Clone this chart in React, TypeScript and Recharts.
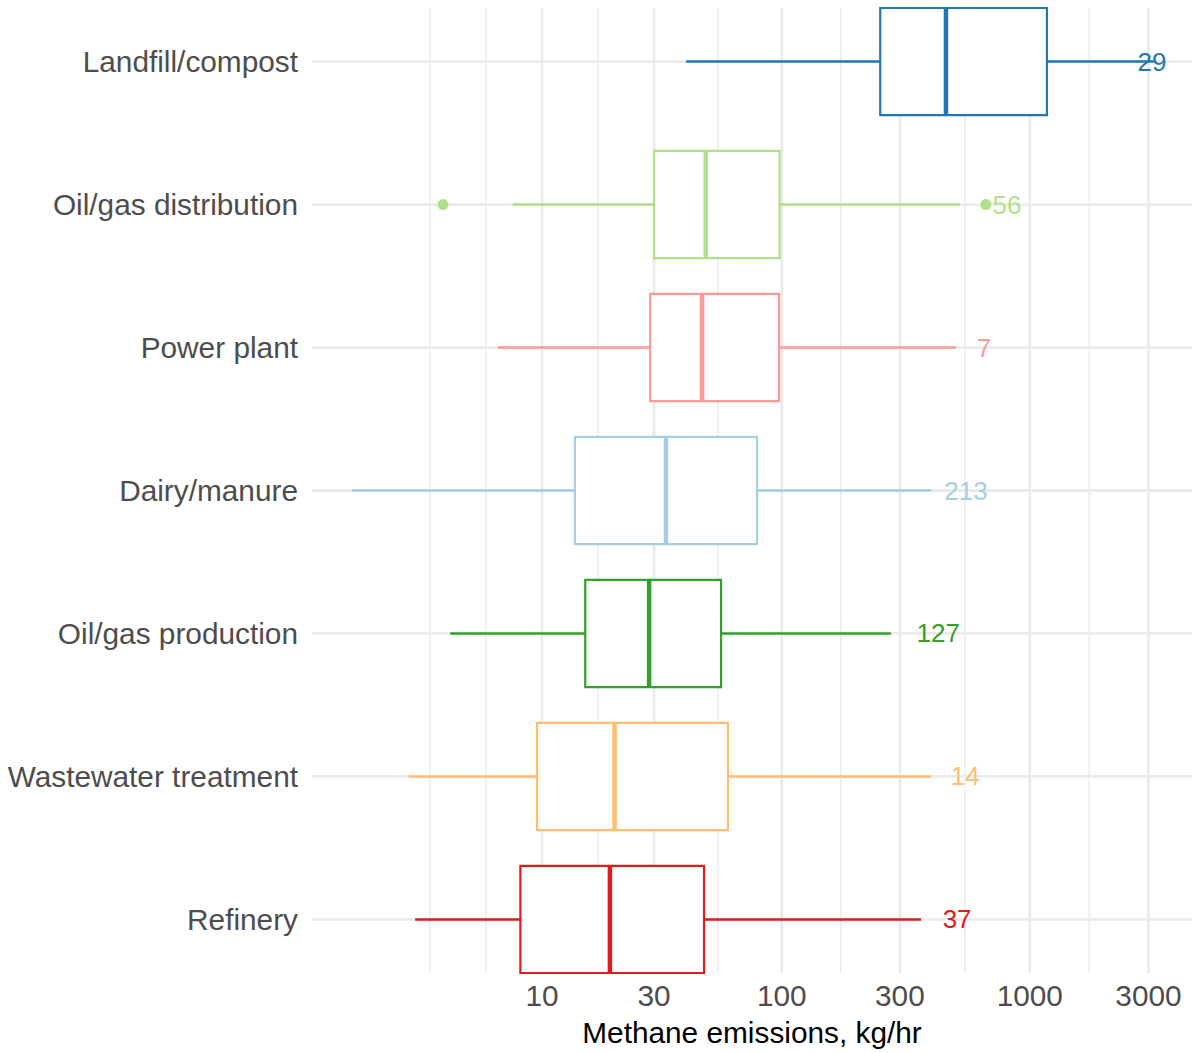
import { ComposedChart, XAxis, YAxis, CartesianGrid, ReferenceArea, ReferenceLine, Scatter } from 'recharts'

// categories listed top to bottom
const categories = [
  'Landfill/compost',
  'Oil/gas distribution',
  'Power plant',
  'Dairy/manure',
  'Oil/gas production',
  'Wastewater treatment',
  'Refinery',
]
const colors = ['#1F78B4', '#B2DF8A', '#FB9A99', '#A6CEE3', '#33A02C', '#FDBF6F', '#E31A1C']

// box stats, kg/hr
const whiskerLow = [40.7, 7.4, 6.3, 0.9, 3.7, 2.2, 2.4]
const q1 = [250, 30, 28.9, 13.9, 15.4, 9.5, 8.0]
const median = [460, 49, 47.3, 33.6, 28.6, 20.5, 19.6]
const q3 = [1172, 98, 97.5, 79.3, 56.6, 60.4, 48.2]
const whiskerHigh = [3150, 524, 505, 401, 276, 401, 365]

// sample counts and where they sit on the x axis
const counts = [29, 56, 7, 213, 127, 14, 37]
const countAt = [3100, 810, 655, 554, 428, 550, 510]

const outlierCategory = ['Oil/gas distribution', 'Oil/gas distribution']
const outlierValue = [3.4, 666]

const xTicks = [10, 30, 100, 300, 1000, 3000]
const xLimits = [0.31, 4486]

const FONT = '"Liberation Sans", Arial, Helvetica, sans-serif'
const FS = 29.8
const GRID = '#EBEBEB'
const HALF = 0.375

// axis is log10(x + 1)
const shift = (v: number) => v + 1
const rowPos = (i: number) => categories.length - i

const majorGrid = xTicks.map(shift)
const logMajor = majorGrid.map(Math.log10)
const lo = Math.log10(shift(xLimits[0]))
const hi = Math.log10(shift(xLimits[1]))
const extended = [
  2 * logMajor[0] - logMajor[1],
  ...logMajor,
  2 * logMajor[logMajor.length - 1] - logMajor[logMajor.length - 2],
]
const minorLog: number[] = [extended[0], extended[extended.length - 1]]
for (let i = 0; i < extended.length - 1; i++) minorLog.push((extended[i] + extended[i + 1]) / 2)
const minorGrid = minorLog.filter(l => l > lo && l < hi).map(l => Math.pow(10, l))

const rows = categories.map((_, i) => rowPos(i))

const outliers = outlierValue.map((v, i) => ({
  x: shift(v),
  y: rowPos(categories.indexOf(outlierCategory[i])),
  color: colors[categories.indexOf(outlierCategory[i])],
}))
const countLabels = counts.map((n, i) => ({ x: shift(countAt[i]), y: rowPos(i), n, color: colors[i] }))

export default function App() {
  return (
    <div style={{ position: 'absolute', left: 0, top: 0, background: '#fff', fontFamily: FONT }}>
      <ComposedChart width={1196} height={1053} margin={{ top: 8, right: 4, bottom: 0, left: 0 }}>
        <CartesianGrid stroke={GRID} strokeWidth={2.8} verticalValues={majorGrid} horizontalValues={rows} />
        <CartesianGrid stroke={GRID} strokeWidth={1.4} horizontal={false} verticalValues={minorGrid} />
        <XAxis
          type="number"
          dataKey="x"
          scale="log"
          domain={[shift(xLimits[0]), shift(xLimits[1])]}
          allowDataOverflow
          ticks={majorGrid}
          interval={0}
          tickFormatter={(v: number) => String(Math.round(v - 1))}
          axisLine={false}
          tickLine={false}
          tickSize={0}
          tickMargin={12}
          height={80}
          tick={{ fontSize: FS, fill: '#4D4D4D', fontFamily: FONT }}
          label={{ value: 'Methane emissions, kg/hr', position: 'insideBottom', offset: 10, fontSize: FS, fill: '#000', fontFamily: FONT }}
        />
        <YAxis
          type="number"
          dataKey="y"
          domain={[1 - HALF, categories.length + HALF]}
          allowDataOverflow
          ticks={rows}
          interval={0}
          tickFormatter={(v: number) => categories[categories.length - v] ?? ''}
          axisLine={false}
          tickLine={false}
          tickSize={0}
          tickMargin={14}
          width={312}
          tick={{ fontSize: FS, fill: '#4D4D4D', fontFamily: FONT }}
        />
        {categories.map((c, i) => (
          <ReferenceLine
            key={'wl' + c}
            segment={[{ x: shift(whiskerLow[i]), y: rowPos(i) }, { x: shift(q1[i]), y: rowPos(i) }]}
            stroke={colors[i]}
            strokeWidth={2.5}
          />
        ))}
        {categories.map((c, i) => (
          <ReferenceLine
            key={'wh' + c}
            segment={[{ x: shift(q3[i]), y: rowPos(i) }, { x: shift(whiskerHigh[i]), y: rowPos(i) }]}
            stroke={colors[i]}
            strokeWidth={2.5}
          />
        ))}
        {categories.map((c, i) => (
          <ReferenceArea
            key={'box' + c}
            x1={shift(q1[i])}
            x2={shift(q3[i])}
            y1={rowPos(i) - HALF}
            y2={rowPos(i) + HALF}
            fill="#fff"
            fillOpacity={1}
            stroke={colors[i]}
            strokeWidth={2.2}
          />
        ))}
        {categories.map((c, i) => (
          <ReferenceLine
            key={'med' + c}
            segment={[{ x: shift(median[i]), y: rowPos(i) - HALF }, { x: shift(median[i]), y: rowPos(i) + HALF }]}
            stroke={colors[i]}
            strokeWidth={4.5}
          />
        ))}
        <Scatter
          data={outliers}
          isAnimationActive={false}
          shape={(p: any) => <circle cx={p.cx} cy={p.cy} r={5.5} fill={p.payload.color} />}
        />
        <Scatter
          data={countLabels}
          isAnimationActive={false}
          shape={(p: any) => (
            <text
              x={p.cx}
              y={p.cy}
              textAnchor="middle"
              dominantBaseline="central"
              fontSize={26}
              fontFamily={FONT}
              fill={p.payload.color}
            >
              {p.payload.n}
            </text>
          )}
        />
      </ComposedChart>
    </div>
  )
}
